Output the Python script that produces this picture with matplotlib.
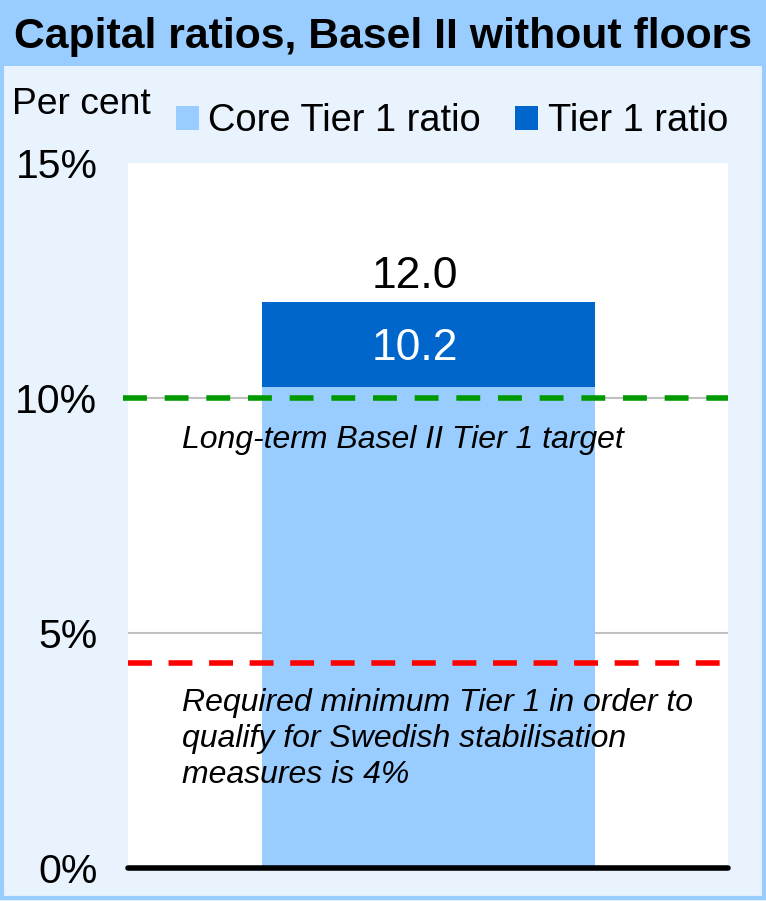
import matplotlib.pyplot as plt
from matplotlib.patches import Rectangle
from matplotlib.ticker import FuncFormatter

plt.rcParams['font.family'] = ['Liberation Sans', 'DejaVu Sans']

# values
core_tier1 = [10.24]
tier1 = [12.04]
target_level = 10.0   # long-term Basel II Tier 1 target
minimum_level = 4.37  # red line as drawn
yticks = [0, 5, 10, 15]

light = '#99CCFF'
dark = '#0066CC'
bg = '#E8F3FE'

fig = plt.figure(figsize=(7.66, 9.01), dpi=100, facecolor=bg)

# title band + outer border
fig.patches.append(Rectangle((0, 1 - 66/901), 1, 66/901, transform=fig.transFigure,
                             facecolor=light, edgecolor='none', zorder=0))
fig.patches.append(Rectangle((0.002, 0.003), 0.996, 0.995, transform=fig.transFigure,
                             facecolor='none', edgecolor=light, lw=3, zorder=5))
fig.text(0.5, 1 - 37/901, 'Capital ratios, Basel II without floors', ha='center', va='center',
         fontsize=30.8, fontweight='bold')

ax = fig.add_axes([128/766, 1 - 868/901, 600/766, 705/901])
ax.set_facecolor('white')
ax.set_xlim(0, 1)
ax.set_ylim(0, 15)

for y in [5, 10]:
    ax.axhline(y, color='#C0C0C0', lw=1.5, zorder=1)

x = [0.5]
b1 = ax.bar(x, core_tier1, width=0.555, color=light, zorder=2, label='Core Tier 1 ratio')
b2 = ax.bar(x, [t - c for t, c in zip(tier1, core_tier1)], bottom=core_tier1, width=0.555,
            color=dark, zorder=2, label='Tier 1 ratio')

ax.axhline(target_level, color='#009900', lw=4, dashes=(4.3, 3.2), zorder=3, xmin=-0.008, clip_on=False)
ax.axhline(minimum_level, color='#FF0000', lw=4, dashes=(4.3, 3.0), zorder=3)
ax.axhline(0, color='black', lw=4, solid_capstyle='round', zorder=4, clip_on=False)

ax.text(0.478, tier1[0] + 0.3, '%.1f' % tier1[0], ha='center', va='baseline', fontsize=32, zorder=5)
ax.text(0.478, (tier1[0] + core_tier1[0]) / 2, '%.1f' % core_tier1[0], ha='center', va='center_baseline',
        fontsize=32, color='white', zorder=5)

ax.text(0.09, 9.1, 'Long-term Basel II Tier 1 target', style='italic', fontsize=23,
        va='center', ha='left', zorder=5)
ax.text(0.09, 2.75, 'Required minimum Tier 1 in order to\nqualify for Swedish stabilisation\nmeasures is 4%',
        style='italic', fontsize=23, va='center', ha='left', linespacing=1.27, zorder=5)

ax.set_yticks(yticks)
ax.yaxis.set_major_formatter(FuncFormatter(lambda v, p: '%d%%' % v))
ax.tick_params(axis='y', length=0, pad=22, labelsize=29.5)
ax.set_xticks([])
for s in ax.spines.values():
    s.set_visible(False)

fig.text(12/766, 1 - 105/901, 'Per cent', fontsize=26.8, va='center', ha='left')
fig.legend(handles=[b1, b2], loc='center left', bbox_to_anchor=(176/766, 1 - 121/901),
           ncol=2, frameon=False, fontsize=27.4, borderpad=0, borderaxespad=0,
           handlelength=0.6, handleheight=0.6, handletextpad=0.25, columnspacing=0.9)

plt.savefig('out.png', dpi=100, facecolor=bg)
